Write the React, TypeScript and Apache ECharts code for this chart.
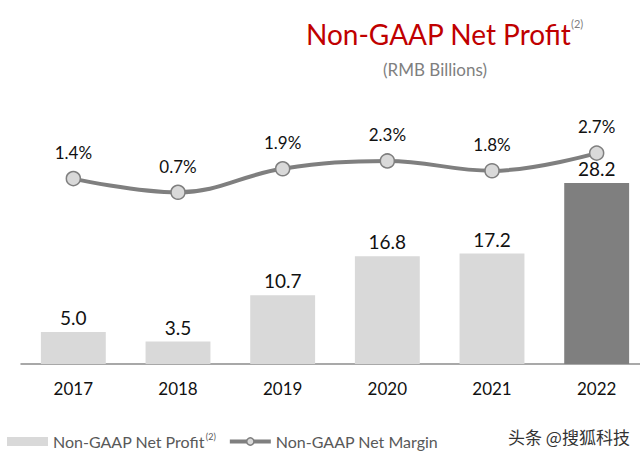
import React, { useEffect, useRef } from "react";
import * as echarts from "echarts";

const years = ["2017", "2018", "2019", "2020", "2021", "2022"];
const netProfit = [5.0, 3.5, 10.7, 16.8, 17.2, 28.2];
const netMargin = [1.4, 0.7, 1.9, 2.3, 1.8, 2.7];
const barColors = ["#d9d9d9", "#d9d9d9", "#d9d9d9", "#d9d9d9", "#d9d9d9", "#7f7f7f"];

const FONT = "Lato, 'Open Sans', sans-serif";

export default function App() {
  const ref = useRef<HTMLDivElement>(null);
  useEffect(() => {
    if (!ref.current) return;
    const chart = echarts.init(ref.current, null, { renderer: "svg" });
    chart.setOption({
      animation: false,
      backgroundColor: "#ffffff",
      textStyle: { fontFamily: FONT },
      grid: [
        { left: 21, top: 171.4, width: 628, height: 192.6 },
        { left: 21, top: 140, width: 628, height: 66 },
      ],
      xAxis: [
        {
          type: "category",
          data: years,
          gridIndex: 0,
          axisLine: { lineStyle: { color: "#8c8c8c", width: 1.5 } },
          axisTick: { length: 6, lineStyle: { color: "#8c8c8c", width: 1.5 } },
          axisLabel: { color: "#111", fontSize: 17, margin: 16, fontFamily: FONT },
        },
        { type: "category", data: years, gridIndex: 1, show: false },
      ],
      yAxis: [
        { type: "value", min: 0, max: 30, gridIndex: 0, show: false },
        { type: "value", min: 0, max: 3.37, gridIndex: 1, show: false },
      ],
      legend: {
        left: 7,
        top: 432,
        padding: 0,
        itemWidth: 41,
        itemHeight: 9,
        itemGap: 12,
        data: [
          { name: "Non-GAAP Net Profit", icon: "rect", itemStyle: { color: "#d9d9d9" } },
          {
            name: "Non-GAAP Net Margin",
            lineStyle: { color: "#7f7f7f", width: 4 },
            itemStyle: { color: "#d9d9d9", borderColor: "#7f7f7f", borderWidth: 1.5 },
          },
        ],
        formatter: (name: string) =>
          name === "Non-GAAP Net Profit" ? "{a|" + name + "}{s|(2)}" : "{a|" + name + "}",
        textStyle: {
          color: "#595959",
          fontSize: 16,
          fontFamily: FONT,
          rich: {
            a: { color: "#595959", fontSize: 16, fontFamily: FONT },
            s: { color: "#595959", fontSize: 9, fontFamily: FONT, verticalAlign: "top", padding: [0, 0, 10, 1] },
          },
        },
      },
      series: [
        {
          name: "Non-GAAP Net Profit",
          type: "bar",
          xAxisIndex: 0,
          yAxisIndex: 0,
          barWidth: "62%",
          data: netProfit.map((v, i) => ({ value: v, itemStyle: { color: barColors[i] } })),
          itemStyle: { color: "#d9d9d9" },
          label: {
            show: true,
            position: "top",
            distance: 5,
            color: "#111",
            fontSize: 19,
            fontFamily: FONT,
            formatter: (p: any) => Number(p.value).toFixed(1),
          },
        },
        {
          name: "Non-GAAP Net Margin",
          type: "line",
          xAxisIndex: 1,
          yAxisIndex: 1,
          data: netMargin,
          smooth: 0.4,
          symbol: "circle",
          symbolSize: 14,
          lineStyle: { color: "#7f7f7f", width: 4 },
          itemStyle: { color: "#d9d9d9", borderColor: "#7f7f7f", borderWidth: 1.5 },
          label: {
            show: true,
            position: "top",
            distance: 10,
            color: "#111",
            fontSize: 17,
            fontFamily: FONT,
            formatter: (p: any) => Number(p.value).toFixed(1) + "%",
          },
        },
      ],
      graphic: [
        {
          type: "text",
          left: 306,
          top: 20,
          style: { text: "Non-GAAP Net Profit", fill: "#c00000", fontSize: 28, fontFamily: FONT },
        },
        {
          type: "text",
          left: 571,
          top: 18,
          style: { text: "(2)", fill: "#7f7f7f", fontSize: 11, fontFamily: FONT },
        },
        {
          type: "text",
          left: 383,
          top: 61,
          style: { text: "(RMB Billions)", fill: "#7f7f7f", fontSize: 17, fontFamily: FONT },
        },
        {
          type: "text",
          left: 508,
          top: 428,
          style: { text: "头条 @搜狐科技", fill: "#333", fontSize: 17, fontFamily: "'Noto Sans CJK SC', sans-serif" },
        },
      ],
    } as any);
    return () => chart.dispose();
  }, []);
  return (
    <div
      style={{ position: "absolute", left: 0, top: 0, width: 640, height: 461, overflow: "hidden" }}
    >
      <div ref={ref} style={{ width: 650, height: 461 }} />
    </div>
  );
}
